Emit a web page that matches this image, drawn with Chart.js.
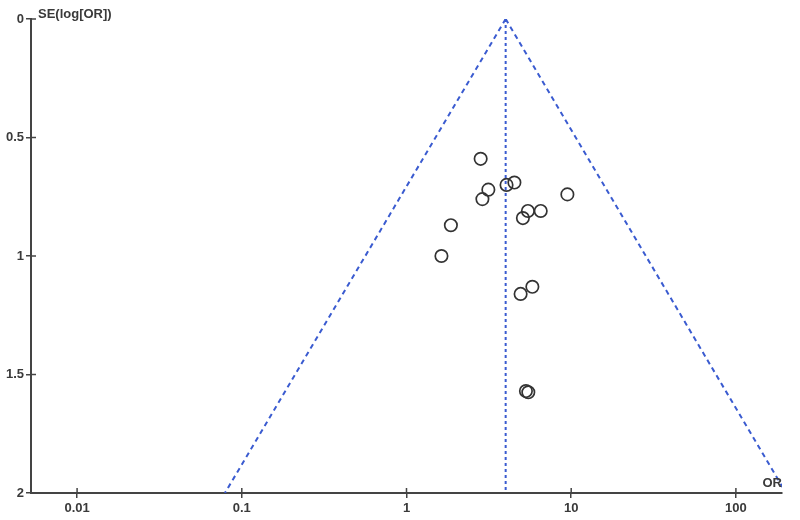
<!DOCTYPE html>
<html>
<head>
<meta charset="utf-8">
<script src="https://cdn.jsdelivr.net/npm/chart.js@4"></script>
<style>
  html, body { margin: 0; padding: 0; background: #fff; }
  #wrap { width: 800px; height: 520px; }
</style>
</head>
<body>
<div id="wrap"><canvas id="funnel" width="800" height="520"></canvas></div>
<script>
// study odds ratios and standard errors
const studyOR = [2.82, 3.14, 2.89, 4.05, 4.52, 9.48, 5.46, 5.09, 6.53, 1.86, 1.63, 5.81, 4.93, 5.31, 5.49];
const studySE = [0.59, 0.72, 0.76, 0.70, 0.69, 0.74, 0.81, 0.84, 0.81, 0.87, 1.00, 1.13, 1.16, 1.57, 1.575];

// pooled estimate and funnel limits (95%)
const pooledOR = 4.0;
const funnelSE = [0, 2];
const funnelLeft = [4.0, 0.079];
const funnelRight = [4.0, 201.6];

const xTicks = [0.01, 0.1, 1, 10, 100];
const xTickLabels = ['0.01', '0.1', '1', '10', '100'];
const yTicks = [0, 0.5, 1, 1.5, 2];
const yTickLabels = ['0', '0.5', '1', '1.5', '2'];

const axisColor = '#444';
const dashBlue = '#3a5bd0';
const textColor = '#3a3a3a';
const textFont = 'bold 13px "Liberation Sans", Arial, sans-serif';

const points = studyOR.map((v, i) => ({ x: v, y: studySE[i] }));
const leftLine = funnelSE.map((s, i) => ({ x: funnelLeft[i], y: s }));
const rightLine = funnelSE.map((s, i) => ({ x: funnelRight[i], y: s }));
const midLine = funnelSE.map(s => ({ x: pooledOR, y: s }));

// inner halves of tick marks plus the two axis titles
const extras = {
  id: 'extras',
  afterDraw(chart) {
    const ctx = chart.ctx;
    const xs = chart.scales.x, ys = chart.scales.y;
    const area = chart.chartArea;
    ctx.save();
    ctx.strokeStyle = axisColor;
    ctx.lineWidth = 1.5;
    ctx.beginPath();
    xTicks.forEach(v => {
      const px = xs.getPixelForValue(v);
      ctx.moveTo(px, area.bottom);
      ctx.lineTo(px, area.bottom - 5);
    });
    yTicks.forEach(v => {
      const py = ys.getPixelForValue(v);
      ctx.moveTo(area.left, py);
      ctx.lineTo(area.left + 5, py);
    });
    ctx.stroke();
    ctx.fillStyle = textColor;
    ctx.font = textFont;
    ctx.textBaseline = 'bottom';
    ctx.textAlign = 'left';
    ctx.fillText('SE(log[OR])', area.left + 7, area.top + 2);
    ctx.textAlign = 'right';
    ctx.fillText('OR', area.right, area.bottom - 3);
    ctx.restore();
  }
};

const tickFont = { family: '"Liberation Sans", Arial, sans-serif', size: 13, weight: 'bold' };

new Chart(document.getElementById('funnel'), {
  type: 'scatter',
  data: {
    datasets: [
      {
        data: leftLine, showLine: true, pointRadius: 0,
        borderColor: dashBlue, borderWidth: 2, borderDash: [5, 4]
      },
      {
        data: rightLine, showLine: true, pointRadius: 0,
        borderColor: dashBlue, borderWidth: 2, borderDash: [5, 4]
      },
      {
        data: midLine, showLine: true, pointRadius: 0,
        borderColor: dashBlue, borderWidth: 2, borderDash: [3, 3]
      },
      {
        data: points,
        pointRadius: 6.2,
        pointBorderWidth: 1.7,
        pointBackgroundColor: 'rgba(255,255,255,0)',
        pointBorderColor: '#333'
      }
    ]
  },
  options: {
    responsive: false,
    animation: false,
    layout: { padding: { top: 19, right: 18, left: 0, bottom: 0 } },
    plugins: { legend: { display: false }, tooltip: { enabled: false } },
    scales: {
      x: {
        type: 'logarithmic',
        min: 0.00525,
        max: 190.5,
        afterBuildTicks: s => { s.ticks = xTicks.map(v => ({ value: v })); },
        afterFit: s => { s.height = 27; },
        border: { color: axisColor, width: 2 },
        grid: { drawOnChartArea: false, drawTicks: true, tickLength: 5, color: axisColor, lineWidth: 1.5 },
        ticks: {
          autoSkip: false, maxRotation: 0, padding: 3,
          color: textColor,
          font: tickFont,
          callback: v => { const i = xTicks.indexOf(v); return i >= 0 ? xTickLabels[i] : ''; }
        }
      },
      y: {
        reverse: true,
        min: 0,
        max: 2,
        afterBuildTicks: s => { s.ticks = yTicks.map(v => ({ value: v })); },
        afterFit: s => { s.width = 31; },
        border: { color: axisColor, width: 2 },
        grid: { drawOnChartArea: false, drawTicks: true, tickLength: 5, color: axisColor, lineWidth: 1.5 },
        ticks: {
          autoSkip: false, padding: 2,
          color: textColor,
          font: tickFont,
          callback: v => { const i = yTicks.indexOf(v); return i >= 0 ? yTickLabels[i] : ''; }
        }
      }
    }
  },
  plugins: [extras]
});
</script>
</body>
</html>
